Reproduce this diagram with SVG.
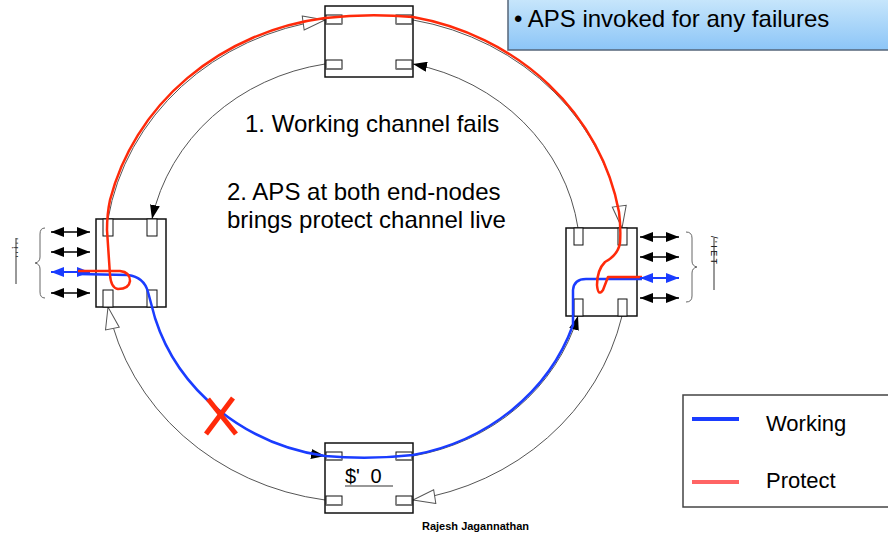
<svg xmlns="http://www.w3.org/2000/svg" width="888" height="535" viewBox="0 0 888 535">
<style>
text{font-family:"Liberation Sans",Arial,sans-serif;fill:#000}
.box{fill:#fff;stroke:#111;stroke-width:1.5}
.port{fill:#fff;stroke:#111;stroke-width:1}
.ps{stroke:#777;stroke-width:2}
.ring{fill:none;stroke:#555;stroke-width:1}
.out{marker-end:url(#open)}
.inn{marker-end:url(#fill)}
.dbl{stroke:#000;stroke-width:1.5;marker-start:url(#hb);marker-end:url(#hb)}
.dblb{stroke:#1a3cff;stroke-width:2;marker-start:url(#hbb);marker-end:url(#hbb)}
.brace{fill:none;stroke:#666;stroke-width:1}
.work{fill:none;stroke:#1a3cff;stroke-width:2.5;stroke-linejoin:round}
.prot{fill:none;stroke:#ff2a0a;stroke-width:2.5;stroke-linejoin:round}
</style>
<defs>
<linearGradient id="bg" x1="0" y1="0" x2="0" y2="1">
<stop offset="0" stop-color="#d2ecfc"/>
<stop offset="1" stop-color="#8cc5f7"/>
</linearGradient>
<marker id="open" viewBox="0 0 22 14" refX="22" refY="7" markerWidth="22" markerHeight="14" markerUnits="userSpaceOnUse" orient="auto" overflow="visible">
<path d="M0,0 L22,7 L0,14 Z" fill="#fff" stroke="#555" stroke-width="1"/>
</marker>
<marker id="fill" viewBox="0 0 14 10" refX="14" refY="5" markerWidth="14" markerHeight="10" markerUnits="userSpaceOnUse" orient="auto">
<path d="M0,0 L14,5 L0,10 Z" fill="#000"/>
</marker>
<marker id="hb" viewBox="0 0 13 10" refX="13" refY="5" markerWidth="13" markerHeight="10" markerUnits="userSpaceOnUse" orient="auto-start-reverse">
<path d="M0,0 L13,5 L0,10 Z" fill="#000"/>
</marker>
<marker id="hbb" viewBox="0 0 13 10" refX="13" refY="5" markerWidth="13" markerHeight="10" markerUnits="userSpaceOnUse" orient="auto-start-reverse">
<path d="M0,0 L13,5 L0,10 Z" fill="#1a3cff"/>
</marker>
</defs>

<g id="note-box">
<rect x="508" y="-10" width="390" height="60" fill="url(#bg)" stroke="#55657a" stroke-width="1.5"/>
<text x="514" y="27" font-size="24">• APS invoked for any failures</text>
</g>

<g id="connectors">
<path class="ring out" d="M108,219 A258,240 0 0 1 325,20"/>
<path class="ring out" d="M413,20 A258,240 0 0 1 622,228"/>
<path class="ring out" d="M622,316 A258,240 0 0 1 413,500"/>
<path class="ring out" d="M325,500 A258,240 0 0 1 108,307"/>
<path class="ring inn" d="M578,228 A212,196 0 0 0 413,64"/>
<path class="ring inn" d="M325,64 A212,196 0 0 0 152,219"/>
<path class="ring inn" d="M152,307 A212,196 0 0 0 325,456"/>
<path class="ring inn" d="M413,456 A212,196 0 0 0 578,316"/>
</g>

<g id="node-top">
<rect class="box" x="325" y="6" width="88" height="71"/>
<rect class="port" x="326" y="15" width="16" height="9"/><line class="ps" x1="326" y1="24" x2="342" y2="24"/>
<rect class="port" x="396" y="15" width="16" height="9"/><line class="ps" x1="396" y1="24" x2="412" y2="24"/>
<rect class="port" x="326" y="60" width="16" height="9"/><line class="ps" x1="326" y1="69" x2="342" y2="69"/>
<rect class="port" x="396" y="60" width="16" height="9"/><line class="ps" x1="396" y1="69" x2="412" y2="69"/>
</g>

<g id="node-bottom">
<rect class="box" x="325" y="443" width="88" height="70"/>
<rect class="port" x="326" y="452" width="16" height="8"/><line class="ps" x1="326" y1="460" x2="342" y2="460"/>
<rect class="port" x="396" y="452" width="16" height="8"/><line class="ps" x1="396" y1="460" x2="412" y2="460"/>
<rect class="port" x="326" y="496" width="16" height="9"/><line class="ps" x1="326" y1="505" x2="342" y2="505"/>
<rect class="port" x="396" y="496" width="16" height="9"/><line class="ps" x1="396" y1="505" x2="412" y2="505"/>
<text x="345" y="483" font-size="20">$' <tspan dx="5">0</tspan></text>
<line x1="345" y1="486" x2="393" y2="486" stroke="#333" stroke-width="1.2"/>
</g>

<g id="node-left">
<rect class="box" x="96" y="219" width="70" height="88"/>
<rect class="port" x="103" y="219" width="10" height="17"/>
<rect class="port" x="147" y="219" width="10" height="17"/>
<rect class="port" x="103" y="290" width="10" height="17"/>
<rect class="port" x="147" y="290" width="10" height="17"/>
<line class="dbl" x1="51" y1="232" x2="90" y2="232"/>
<line class="dbl" x1="51" y1="252" x2="90" y2="252"/>
<line class="dbl" x1="51" y1="293" x2="90" y2="293"/>
<path class="brace" d="M45,228 Q40,228 40,234 L40,257 Q40,262 35,263 Q40,264 40,269 L40,292 Q40,298 45,298"/>
<text transform="translate(12,238) rotate(90)" font-size="9">' ' ! ' '</text>
<line x1="16" y1="238" x2="16" y2="284" stroke="#333" stroke-width="1"/>
</g>

<g id="node-right">
<rect class="box" x="566" y="228" width="71" height="88"/>
<rect class="port" x="574" y="228" width="9" height="17"/>
<rect class="port" x="618" y="228" width="9" height="17"/>
<rect class="port" x="574" y="299" width="9" height="17"/>
<rect class="port" x="618" y="299" width="9" height="17"/>
<line class="dbl" x1="640" y1="237" x2="679" y2="237"/>
<line class="dbl" x1="640" y1="257" x2="679" y2="257"/>
<line class="dbl" x1="640" y1="298" x2="679" y2="298"/>
<path class="brace" d="M686,232 Q692,232 692,238 L692,261 Q692,266 697,267 Q692,268 692,273 L692,296 Q692,302 686,302"/>
<text transform="translate(711,236) rotate(90)" font-size="9">/ ' I E T</text>
<line x1="714" y1="238" x2="714" y2="290" stroke="#333" stroke-width="1"/>
</g>

<g id="working-path">
<path class="work" d="M78,274 L128,275 Q144,277 148,292 L155,318 A212,196 0 0 0 325,456 Q369,460 413,455 A212,196 0 0 0 573,325 L573,290 Q574,279 586,279 L642,279"/>
<line class="dblb" x1="51" y1="272" x2="90" y2="272"/>
</g>

<g id="protect-path">
<path class="prot" d="M78,271 L120,271 Q130,272 130,281 Q129,289 118,289 Q111,288 110,275 L107,230 Q107,214 110,200 A258,240 0 0 1 325,18 Q369,13 413,17 A258,240 0 0 1 619,212 Q621,228 620,243 Q618,255 605,262 Q597,270 597,285 Q598,297 603,290 L608,277 L642,277"/>
<line class="dblb" x1="640" y1="278" x2="679" y2="278"/>
</g>

<g id="failure">
<line x1="208" y1="399" x2="236" y2="434" stroke="#ff2a0a" stroke-width="5"/>
<line x1="233" y1="398" x2="206" y2="434" stroke="#ff2a0a" stroke-width="5"/>
</g>

<g id="labels">
<text x="245" y="132" font-size="24">1. Working channel fails</text>
<text x="227" y="200" font-size="24">2. APS at both end-nodes</text>
<text x="227" y="228" font-size="24">brings protect channel live</text>
<text x="422" y="530" font-size="11" font-weight="bold">Rajesh Jagannathan</text>
</g>

<g id="legend">
<rect x="683" y="395" width="215" height="112" fill="#fff" stroke="#444" stroke-width="1.5"/>
<line x1="692" y1="419" x2="739" y2="419" stroke="#1a3cff" stroke-width="4"/>
<text x="766" y="431" font-size="22">Working</text>
<line x1="692" y1="482" x2="739" y2="482" stroke="#ff6464" stroke-width="4"/>
<text x="766" y="488" font-size="22">Protect</text>
</g>
</svg>
